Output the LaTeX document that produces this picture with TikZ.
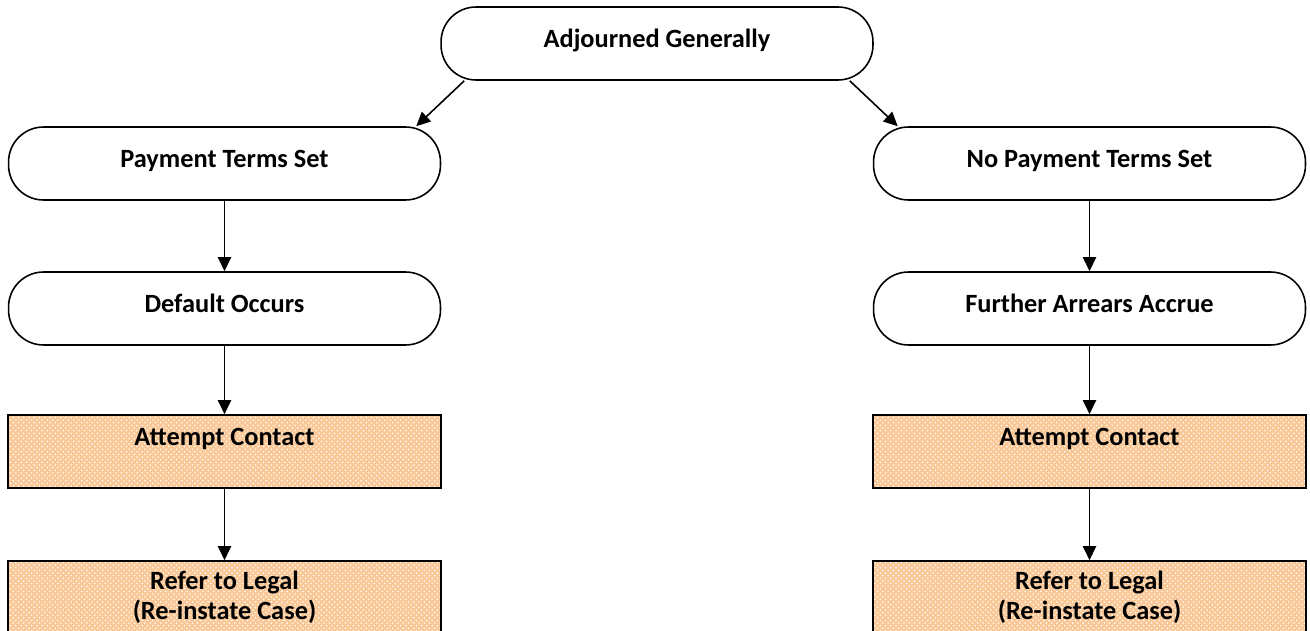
\documentclass[tikz,border=0pt]{standalone}
\usepackage{fontspec}
\setmainfont{Carlito}
\usetikzlibrary{arrows.meta,calc,patterns}

\definecolor{peach}{RGB}{250,200,150}

\tikzset{
  flowtext/.style={font=\fontsize{15pt}{17pt}\selectfont\bfseries, align=center},
  roundbox/.style={flowtext, draw, line width=0.9pt, rectangle, rounded corners=0.7cm,
    minimum width=8.64cm, minimum height=1.46cm, text height=10pt, text depth=5pt},
  actionbox/.style={flowtext, draw, line width=0.9pt, rectangle,
    preaction={fill=peach}, pattern=crosshatch dots, pattern color=white,
    minimum width=8.66cm, minimum height=1.46cm},
  topline/.style={text height=10pt, text depth=17pt},
  flowarrow/.style={line width=0.9pt, -{Triangle[length=8pt,width=7.5pt]}}
}

\begin{document}
\begin{tikzpicture}[x=0.02cm, y=-0.02cm]

    % Drawing Parameters
    \pgfmathsetmacro{\leftcol}{224.5}%
    \pgfmathsetmacro{\rightcol}{1089.5}%
    \pgfmathsetmacro{\midcol}{657}%

    \useasboundingbox (0,0) rectangle (1310,631);

    % Top
    \node[roundbox] (adj) at (\midcol,43.5) {Adjourned Generally};

    % Left branch
    \node[roundbox] (pts) at (\leftcol,163.5) {Payment Terms Set};
    \node[roundbox] (dfo) at (\leftcol,308.5) {Default Occurs};
    \node[actionbox, topline] (acl) at (\leftcol,451.5) {Attempt Contact};
    \node[actionbox] (rll) at (\leftcol,597.5) {Refer to Legal\\(Re-instate Case)};

    % Right branch
    \node[roundbox] (npts) at (\rightcol,163.5) {No Payment Terms Set};
    \node[roundbox] (faa) at (\rightcol,308.5) {Further Arrears Accrue};
    \node[actionbox, topline] (acr) at (\rightcol,451.5) {Attempt Contact};
    \node[actionbox] (rlr) at (\rightcol,597.5) {Refer to Legal\\(Re-instate Case)};

    % Arrows
    \draw[flowarrow] ($(adj.south west)+(24,0)$) -- ($(pts.north east)+(-25,0)$);
    \draw[flowarrow] ($(adj.south east)+(-24,0)$) -- ($(npts.north west)+(25,0)$);
    \draw[flowarrow] (pts) -- (dfo);
    \draw[flowarrow] (dfo) -- (acl);
    \draw[flowarrow] (acl) -- (rll);
    \draw[flowarrow] (npts) -- (faa);
    \draw[flowarrow] (faa) -- (acr);
    \draw[flowarrow] (acr) -- (rlr);
  \end{tikzpicture}
\end{document}
